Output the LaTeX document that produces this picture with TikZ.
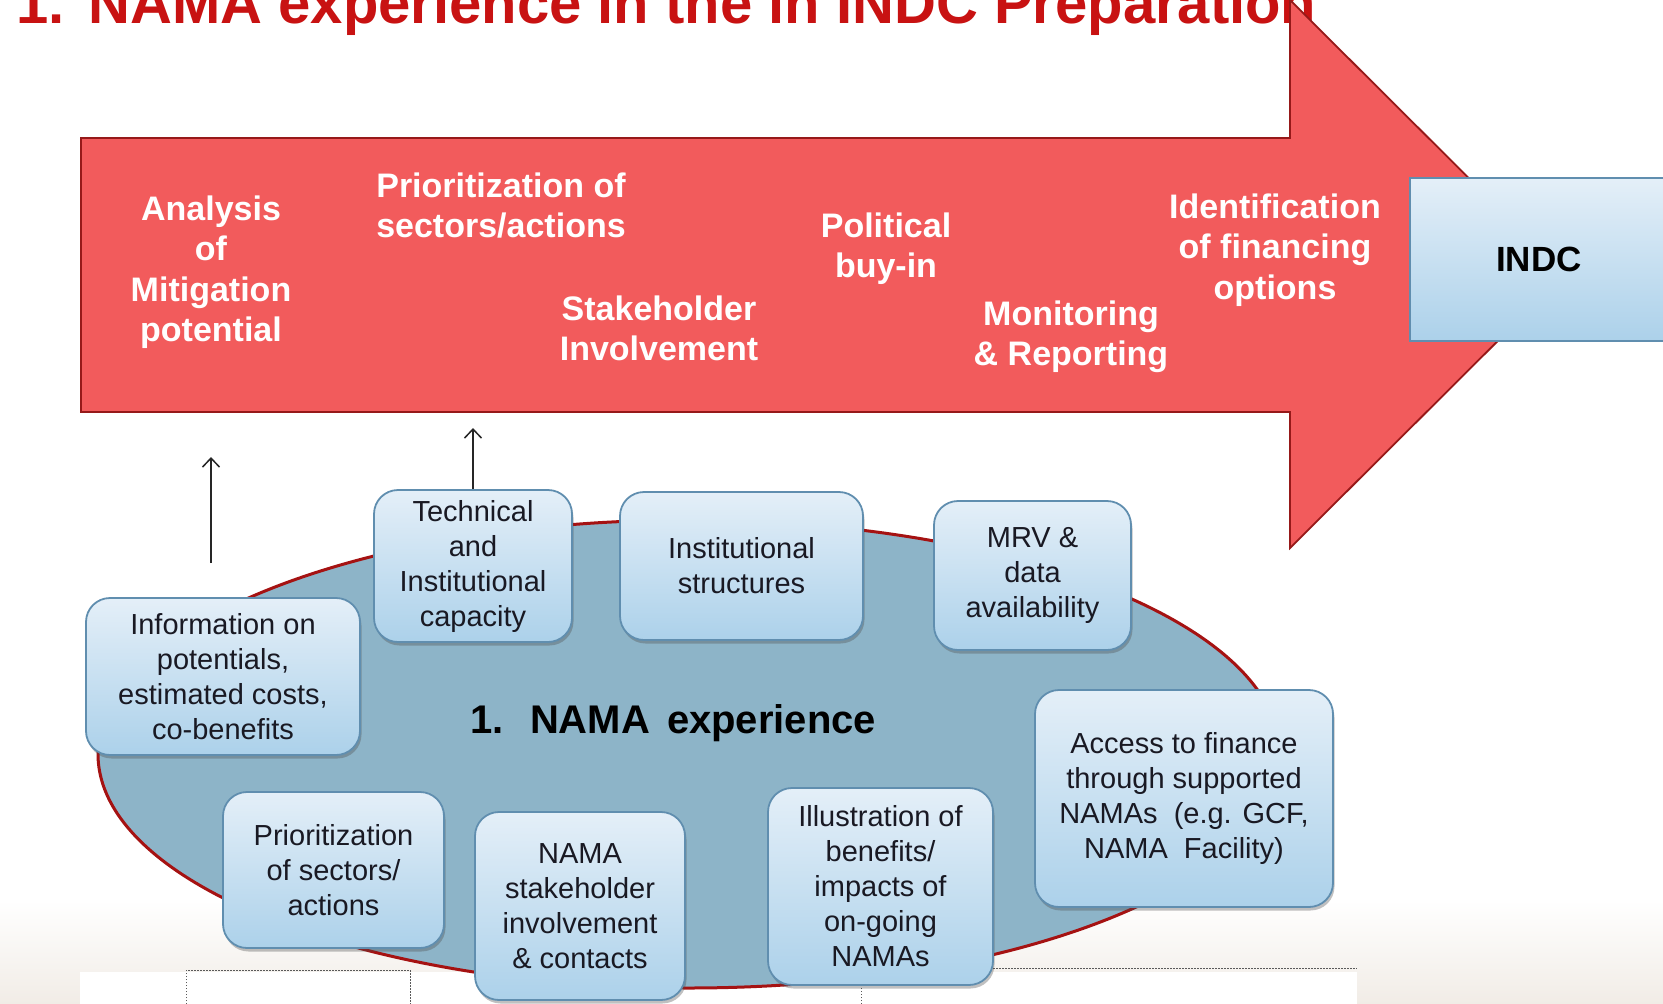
\documentclass[tikz,border=0pt]{standalone}
\usepackage{fontspec}
\setmainfont{Liberation Sans}
\usetikzlibrary{arrows.meta,shadows}

\definecolor{arrowred}{RGB}{242,91,92}
\definecolor{arrowedge}{RGB}{150,25,25}
\definecolor{titlered}{RGB}{200,18,18}
\definecolor{ellfill}{RGB}{141,180,200}
\definecolor{elledge}{RGB}{165,18,18}
\definecolor{boxtop}{RGB}{228,239,248}
\definecolor{boxbot}{RGB}{172,209,234}
\definecolor{boxedge}{RGB}{96,142,175}
\definecolor{boxtext}{RGB}{25,25,35}
\definecolor{bandc}{RGB}{241,236,230}
\definecolor{dotc}{RGB}{90,90,90}

\begin{document}
\begin{tikzpicture}[x=1pt,y=-1pt,
  stepbox/.style={draw=boxedge, line width=1.8pt, rounded corners=24pt,
    top color=boxtop, bottom color=boxbot, align=center, text=boxtext,
    font=\fontsize{29}{35}\selectfont, inner sep=0pt,
    drop shadow={shadow xshift=1.5pt, shadow yshift=-3.5pt, opacity=0.35, fill=black!70}},
  arrowtext/.style={text=white, font=\bfseries\fontsize{34}{40.5}\selectfont,
    align=center, anchor=base, inner sep=0pt},
  uparrow/.style={draw=black!85, line width=1.5pt, -{Straight Barb[length=9pt,width=17pt]}},
  dotline/.style={draw=dotc, line width=1pt, dash pattern=on 1.5pt off 1.5pt}
]
\useasboundingbox (0,0) rectangle (1663,1004);
\begin{scope}
\clip (0,0) rectangle (1663,1004);

% footer band
\fill[top color=white, bottom color=bandc] (0,900) rectangle (1663,1004);
\fill[white] (80,972) rectangle (1357,1004);
\draw[dotline] (186,1010) -- (186,970) -- (410,970) -- (410,1010);
\draw[dotline] (861,1010) -- (861,968) -- (1357,968);

% title
\node[anchor=base west, inner sep=0pt, text=titlered,
  font=\bfseries\fontsize{58}{62}\selectfont] (title) at (16,23)
  {1.\hspace{24pt}NAMA experience in the in INDC Preparation};

% big arrow
\draw[fill=arrowred, draw=arrowedge, line width=1.8pt, line join=miter]
  (81,138) -- (1290,138) -- (1290,0) -- (1565,274) -- (1290,548)
  -- (1290,412) -- (81,412) -- cycle;

% texts in the arrow (anchor = baseline of the last line)
\node[arrowtext] (analysis) at (211,341.5) {Analysis\\of\\Mitigation\\potential};
\node[arrowtext] (prioarrow) at (501,237.5) {Prioritization of\\sectors/actions};
\node[arrowtext] (stakearrow) at (659,360.5) {Stakeholder\\Involvement};
\node[arrowtext] (political) at (886,277.5) {Political\\buy-in};
\node[arrowtext] (monitor) at (1071,365.5) {Monitoring\\\& Reporting};
\node[arrowtext] (ident) at (1275,299) {Identification\\of financing\\options};

% INDC
\node[draw=boxedge, line width=1.8pt, top color=boxtop, bottom color=boxbot,
  minimum width=258pt, minimum height=163pt, inner sep=0pt,
  font=\bfseries\fontsize{35}{40}\selectfont] (indc) at (1539,259.5) {INDC};

% ellipse
\draw[fill=ellfill, draw=elledge, line width=3pt] (689,754) ellipse [x radius=591, y radius=234];
\node[anchor=base west, inner sep=0pt, text=black,
  font=\bfseries\fontsize{40}{44}\selectfont] (namaexp) at (470.5,733)
  {1.\hspace{26pt}NAMA\hspace{17pt}experience};

% boxes
\node[stepbox, minimum width=274pt, minimum height=157pt] (info) at (223,676.5)
  {Information on\\potentials,\\estimated costs,\\co-benefits};
\node[stepbox, minimum width=198pt, minimum height=152pt] (tech) at (473,566)
  {Technical\\and\\Institutional\\capacity};
\node[stepbox, minimum width=243pt, minimum height=148pt] (inst) at (741.5,566)
  {Institutional\\structures};
\node[stepbox, minimum width=197pt, minimum height=149pt] (mrv) at (1032.5,575.5)
  {MRV \&\\data\\availability};
\node[stepbox, minimum width=221pt, minimum height=156pt] (prio) at (333.5,870)
  {Prioritization\\of sectors/\\actions};
\node[stepbox, minimum width=210pt, minimum height=188pt] (stake) at (580,906)
  {NAMA\\stakeholder\\involvement\\\& contacts};
\node[stepbox, minimum width=225pt, minimum height=197pt] (illus) at (880.5,886.5)
  {Illustration of\\benefits/\\impacts of\\on-going\\NAMAs};
\node[stepbox, minimum width=298pt, minimum height=217pt] (access) at (1184,798.5)
  {Access to finance\\through supported\\NAMAs\ \ (e.g. GCF,\\NAMA\ \ Facility)};

% connectors
\coordinate (a1bot) at (211,563);
\coordinate (a1top) at (211,457);
\coordinate (a2top) at (473,428);
\draw[uparrow] (a1bot) -- (a1top);
\draw[uparrow] (tech.north) -- (a2top);
\end{scope}
\end{tikzpicture}
\end{document}
